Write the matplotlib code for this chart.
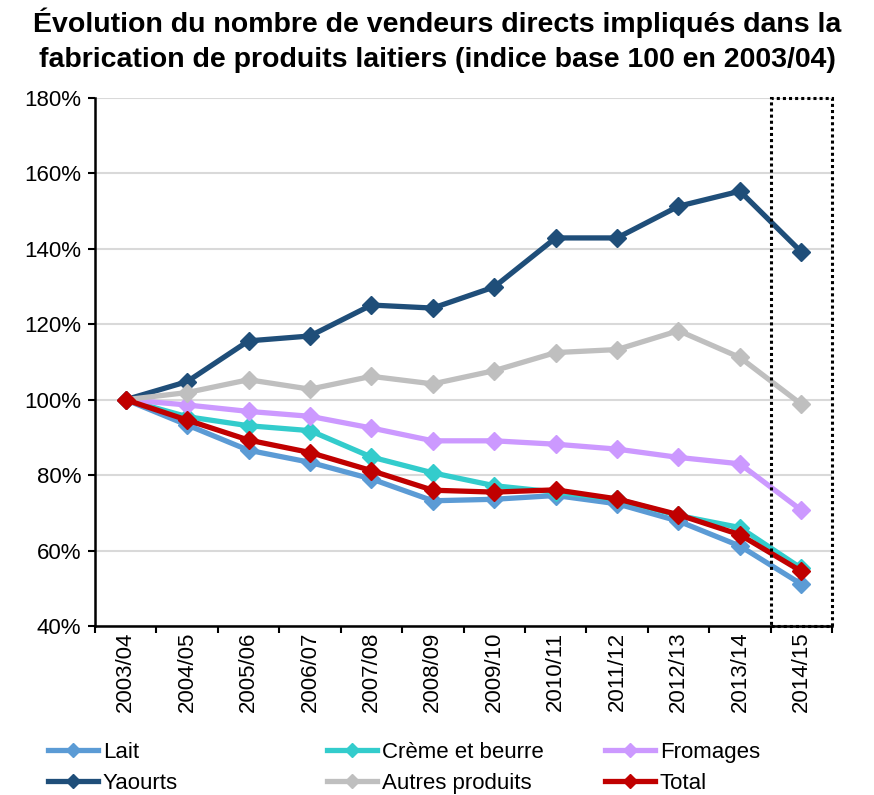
import matplotlib.pyplot as plt
from matplotlib.lines import Line2D
from matplotlib.patches import Rectangle

plt.rcParams['font.family'] = ['Liberation Sans', 'DejaVu Sans']

# campagnes
annees = ["2003/04", "2004/05", "2005/06", "2006/07", "2007/08", "2008/09",
          "2009/10", "2010/11", "2011/12", "2012/13", "2013/14", "2014/15"]

# indices (base 100 en 2003/04)
lait = [100, 93.3, 86.6, 83.4, 79.0, 73.2, 73.6, 74.6, 72.4, 67.8, 61.2, 51.1]
creme = [100, 95.5, 93.1, 91.8, 84.8, 80.6, 77.2, 75.5, 73.6, 69.3, 66.1, 55.3]
fromages = [100, 98.6, 96.9, 95.6, 92.5, 89.1, 89.1, 88.2, 86.9, 84.7, 83.0, 70.7]
yaourts = [100, 104.8, 115.6, 116.9, 125.1, 124.3, 129.9, 142.9, 142.9, 151.3, 155.3, 139.2]
autres = [100, 101.9, 105.3, 102.8, 106.2, 104.2, 107.7, 112.5, 113.3, 118.3, 111.2, 98.8]
total = [100, 94.6, 89.3, 86.0, 81.2, 76.0, 75.5, 76.1, 73.7, 69.5, 64.2, 54.5]

noms = ["Lait", "Crème et beurre", "Fromages", "Yaourts", "Autres produits", "Total"]
couleurs = ["#5B9BD5", "#33CCCC", "#CC99FF", "#1F4E79", "#BFBFBF", "#C00000"]
series = [lait, creme, fromages, yaourts, autres, total]

fig = plt.figure(figsize=(8.74, 7.95), dpi=100)
ax = fig.add_axes([0.1087, 0.2126, 0.8433, 0.6641])

x = list(range(len(annees)))
for nom, c, s in zip(noms, couleurs, series):
    ax.plot(x, s, color=c, lw=3.8, marker='D', markersize=9,
            markeredgecolor=c, label=nom, zorder=3)

ax.set_xlim(-0.5, len(annees) - 0.5)
ax.set_ylim(40, 180)
ax.set_yticks(range(40, 181, 20))
ax.set_yticklabels([f"{v}%" for v in range(40, 181, 20)], fontsize=16)
ax.set_xticks(x)
ax.set_xticklabels(annees, rotation=90, fontsize=16)
ax.tick_params(axis='x', which='major', length=0, pad=4)
ax.set_xticks([i - 0.5 for i in range(len(annees) + 1)], minor=True)
ax.tick_params(axis='x', which='minor', length=5, width=1.5, direction='out')
ax.tick_params(axis='y', length=5, width=1.5, direction='out', pad=5)

ax.grid(axis='y', color='#D9D9D9', lw=1.5, zorder=0)
ax.set_axisbelow(True)
for sp in ['top', 'right']:
    ax.spines[sp].set_visible(False)
for sp in ['left', 'bottom']:
    ax.spines[sp].set_linewidth(1.8)

# encadré dernière campagne
ax.add_patch(Rectangle((len(annees) - 1.5, 40), 1, 140, fill=False,
                       ls=(0, (1, 1)), lw=2.2, ec='black', zorder=4,
                       clip_on=False))

fig.text(0.5, 0.99, "Évolution du nombre de vendeurs directs impliqués dans la\n"
         "fabrication de produits laitiers (indice base 100 en 2003/04)",
         ha='center', va='top', fontsize=20.5, fontweight='bold', linespacing=1.42)

# légende en trois colonnes
cols = [(0, 3), (1, 4), (2, 5)]
xs = [0.055, 0.374, 0.692]
for (a, b), xl in zip(cols, xs):
    h = [Line2D([], [], color=couleurs[i], lw=3.8, marker='D', markersize=7)
         for i in (a, b)]
    fig.legend(h, [noms[a], noms[b]], loc='upper left', bbox_to_anchor=(xl, 0.067),
               frameon=False, fontsize=16, handlelength=2.25, handletextpad=0.22,
               labelspacing=0.45, borderpad=0, borderaxespad=0)

fig.savefig("out.png", dpi=100)
